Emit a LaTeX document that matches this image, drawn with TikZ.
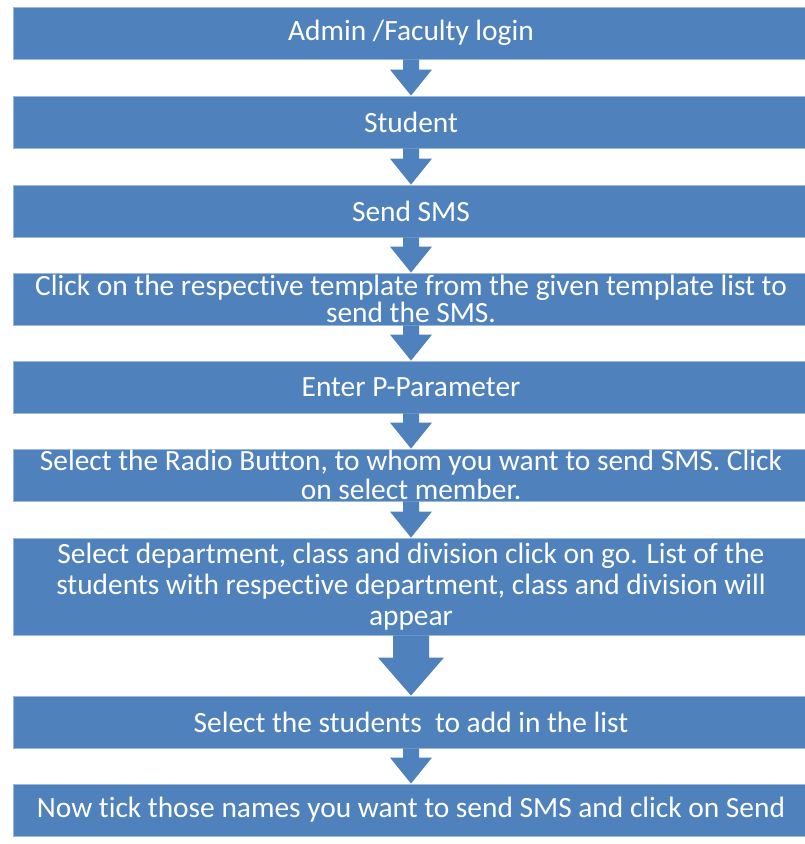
\documentclass[tikz,border=0pt]{standalone}
\usepackage{fontspec}
\setmainfont{Carlito}[Ligatures=NoCommon,Contextuals=NoAlternate]
\usetikzlibrary{calc}

\definecolor{boxblue}{RGB}{79,129,189}
\definecolor{edgeblue}{RGB}{155,185,220}

% block arrow from the bottom of one step to the top of the next
\newcommand{\flowarrow}[5]{%
  \fill[boxblue] let \p1=(#1.south), \p2=(#2.north) in
    (\x1-#3,\y1) -- (\x1+#3,\y1) -- (\x1+#3,\y2+#5) -- (\x1+#4,\y2+#5)
    -- (\x1,\y2) -- (\x1-#4,\y2+#5) -- (\x1-#3,\y2+#5) -- cycle;}

\begin{document}
\begin{tikzpicture}[
  x=1pt,y=-1pt,
  stepbox/.style={
    rectangle,
    fill=boxblue,
    draw=edgeblue,
    line width=0.8pt,
    text=white,
    inner sep=0pt,
    minimum width=796pt,
    minimum height=52pt,
    align=center,
    font=\fontsize{29.4}{31}\selectfont
  }
]
  \useasboundingbox (0,0) rectangle (805,844);
  \node[stepbox] (login) at (411,33) {Admin /Faculty login};
  \node[stepbox] (student) at (411,122) {Student};
  \node[stepbox] (sendsms) at (411,211) {Send SMS};
  \node[stepbox,font=\fontsize{29.4}{27}\selectfont] (template) at (411,299)
    {Click on the respective template from the given template list to\\ send the SMS.};
  \node[stepbox] (param) at (411,387) {Enter P-Parameter};
  \node[stepbox,font=\fontsize{29.4}{28.5}\selectfont] (radio) at (411,475)
    {Select the Radio Button, to whom you want to send SMS. Click\\ on select member.};
  \node[stepbox,minimum height=97pt] (dept) at (411,586.5)
    {Select department, class and division click on go. List of the\\
     students with respective department, class and division will\\ appear};
  \node[stepbox] (addlist) at (411,722) {Select the students \ to add in the list};
  \node[stepbox] (tick) at (411,810) {Now tick those names you want to send SMS and click on Send};

  \flowarrow{login}{student}{8pt}{21pt}{26pt}
  \flowarrow{student}{sendsms}{8pt}{21pt}{26pt}
  \flowarrow{sendsms}{template}{8pt}{21pt}{26pt}
  \flowarrow{template}{param}{8pt}{21pt}{26pt}
  \flowarrow{param}{radio}{8pt}{21pt}{26pt}
  \flowarrow{radio}{dept}{8pt}{21pt}{26pt}
  \flowarrow{dept}{addlist}{18pt}{33pt}{38pt}
  \flowarrow{addlist}{tick}{8pt}{21pt}{26pt}
\end{tikzpicture}
\end{document}
